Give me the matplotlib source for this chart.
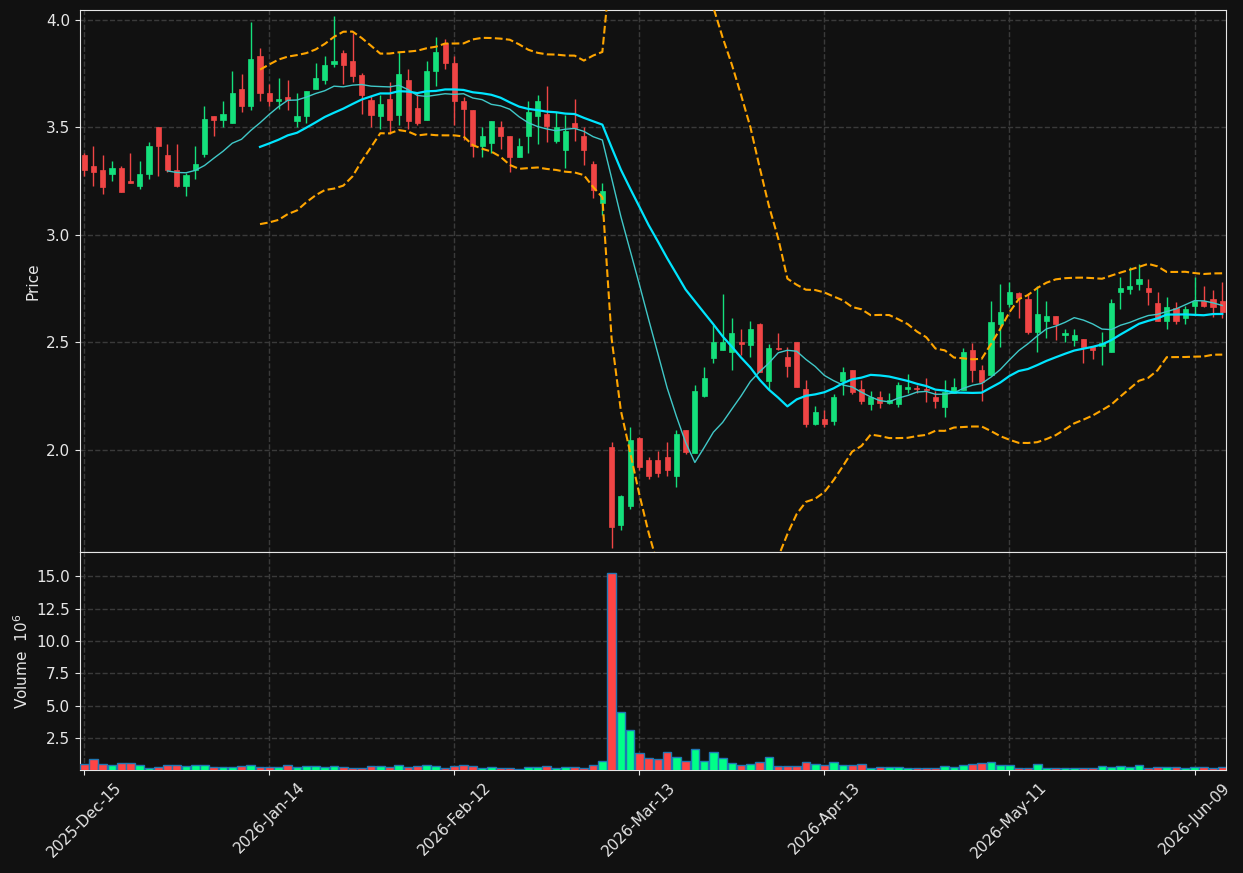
import matplotlib
matplotlib.use("Agg")
import matplotlib.pyplot as plt
import numpy as np
import pandas as pd

# trading days (NYSE holidays skipped)
holidays = ["2025-12-25", "2026-01-01", "2026-01-19", "2026-02-16", "2026-04-03", "2026-05-25"]
n_days = 124
dates = pd.date_range("2025-12-15", periods=n_days,
                      freq=pd.offsets.CustomBusinessDay(holidays=holidays))

opens = [3.372, 3.322, 3.302, 3.281, 3.312, 3.251, 3.229, 3.281, 3.501, 3.372,
         3.302, 3.229, 3.299, 3.377, 3.553, 3.536, 3.518, 3.679, 3.597, 3.833,
         3.660, 3.620, 3.642, 3.527, 3.550, 3.676, 3.718, 3.795, 3.843, 3.809,
         3.741, 3.625, 3.550, 3.633, 3.558, 3.721, 3.591, 3.536, 3.760, 3.893,
         3.798, 3.623, 3.581, 3.411, 3.429, 3.502, 3.460, 3.360, 3.457, 3.550,
         3.563, 3.437, 3.395, 3.521, 3.460, 3.330, 3.150, 2.014, 1.651, 1.741,
         2.056, 1.953, 1.953, 1.967, 1.880, 2.093, 1.983, 2.251, 2.429, 2.462,
         2.453, 2.502, 2.488, 2.586, 2.322, 2.472, 2.433, 2.502, 2.284, 2.122,
         2.144, 2.132, 2.322, 2.372, 2.284, 2.211, 2.247, 2.220, 2.211, 2.281,
         2.286, 2.284, 2.247, 2.201, 2.264, 2.279, 2.465, 2.372, 2.349, 2.583,
         2.679, 2.727, 2.702, 2.550, 2.600, 2.623, 2.532, 2.512, 2.516, 2.478,
         2.484, 2.453, 2.732, 2.750, 2.769, 2.753, 2.682, 2.601, 2.659, 2.611,
         2.671, 2.692, 2.702, 2.690]
highs = [3.380, 3.414, 3.371, 3.344, 3.321, 3.380, 3.344, 3.433, 3.501, 3.422,
         3.422, 3.287, 3.414, 3.598, 3.553, 3.623, 3.761, 3.747, 3.989, 3.868,
         3.702, 3.729, 3.721, 3.659, 3.670, 3.798, 3.831, 4.019, 3.859, 3.938,
         3.752, 3.643, 3.651, 3.710, 3.848, 3.771, 3.659, 3.809, 3.919, 3.910,
         3.833, 3.640, 3.581, 3.501, 3.530, 3.530, 3.460, 3.450, 3.623, 3.651,
         3.693, 3.572, 3.558, 3.631, 3.499, 3.344, 3.240, 2.036, 1.790, 2.104,
         2.060, 1.966, 1.995, 2.036, 2.090, 2.093, 2.302, 2.385, 2.581, 2.724,
         2.613, 2.561, 2.601, 2.592, 2.490, 2.543, 2.480, 2.502, 2.323, 2.205,
         2.186, 2.260, 2.385, 2.372, 2.323, 2.273, 2.273, 2.264, 2.316, 2.352,
         2.302, 2.333, 2.273, 2.324, 2.333, 2.473, 2.499, 2.394, 2.693, 2.772,
         2.780, 2.735, 2.727, 2.763, 2.692, 2.623, 2.561, 2.561, 2.516, 2.478,
         2.550, 2.702, 2.803, 2.850, 2.864, 2.795, 2.733, 2.710, 2.688, 2.670,
         2.803, 2.760, 2.744, 2.780]
lows = [3.271, 3.229, 3.189, 3.248, 3.200, 3.239, 3.211, 3.259, 3.271, 3.290,
        3.220, 3.178, 3.259, 3.361, 3.457, 3.499, 3.518, 3.571, 3.581, 3.622,
        3.597, 3.586, 3.578, 3.501, 3.519, 3.676, 3.702, 3.780, 3.702, 3.710,
        3.561, 3.501, 3.493, 3.470, 3.512, 3.493, 3.512, 3.536, 3.693, 3.771,
        3.512, 3.442, 3.361, 3.361, 3.380, 3.398, 3.291, 3.360, 3.380, 3.422,
        3.431, 3.429, 3.310, 3.437, 3.325, 3.171, 3.093, 1.543, 1.628, 1.724,
        1.907, 1.864, 1.873, 1.880, 1.826, 1.981, 1.983, 2.245, 2.404, 2.462,
        2.372, 2.440, 2.431, 2.360, 2.282, 2.465, 2.341, 2.290, 2.105, 2.114,
        2.105, 2.114, 2.253, 2.260, 2.212, 2.183, 2.194, 2.211, 2.201, 2.264,
        2.264, 2.222, 2.194, 2.152, 2.264, 2.279, 2.315, 2.229, 2.349, 2.480,
        2.664, 2.613, 2.540, 2.454, 2.520, 2.512, 2.501, 2.484, 2.403, 2.422,
        2.395, 2.453, 2.654, 2.724, 2.741, 2.674, 2.601, 2.561, 2.585, 2.585,
        2.629, 2.662, 2.620, 2.613]
closes = [3.299, 3.290, 3.220, 3.312, 3.200, 3.239, 3.284, 3.414, 3.411, 3.299,
          3.229, 3.276, 3.330, 3.540, 3.536, 3.563, 3.660, 3.597, 3.819, 3.657,
          3.620, 3.633, 3.628, 3.553, 3.670, 3.730, 3.791, 3.809, 3.788, 3.736,
          3.648, 3.558, 3.609, 3.536, 3.749, 3.527, 3.519, 3.763, 3.851, 3.798,
          3.620, 3.586, 3.411, 3.460, 3.530, 3.457, 3.360, 3.414, 3.572, 3.623,
          3.507, 3.502, 3.484, 3.496, 3.395, 3.209, 3.205, 1.643, 1.786, 2.047,
          1.922, 1.880, 1.893, 1.904, 2.074, 1.991, 2.274, 2.335, 2.502, 2.502,
          2.544, 2.490, 2.563, 2.360, 2.474, 2.468, 2.392, 2.290, 2.122, 2.177,
          2.122, 2.247, 2.363, 2.270, 2.229, 2.248, 2.220, 2.233, 2.302, 2.293,
          2.281, 2.279, 2.229, 2.271, 2.293, 2.456, 2.369, 2.315, 2.595, 2.642,
          2.735, 2.707, 2.550, 2.633, 2.623, 2.583, 2.544, 2.535, 2.480, 2.462,
          2.499, 2.682, 2.753, 2.763, 2.795, 2.732, 2.601, 2.665, 2.601, 2.654,
          2.692, 2.670, 2.662, 2.640]
# volume in millions
volumes = [0.50, 0.89, 0.50, 0.42, 0.58, 0.58, 0.42, 0.19, 0.27, 0.42,
           0.42, 0.35, 0.42, 0.42, 0.27, 0.27, 0.27, 0.35, 0.42, 0.27,
           0.27, 0.27, 0.42, 0.27, 0.35, 0.35, 0.27, 0.35, 0.27, 0.19,
           0.19, 0.35, 0.35, 0.27, 0.42, 0.27, 0.35, 0.42, 0.35, 0.19,
           0.35, 0.42, 0.35, 0.19, 0.27, 0.19, 0.19, 0.12, 0.27, 0.27,
           0.35, 0.19, 0.27, 0.27, 0.19, 0.42, 0.73, 15.21, 4.50, 3.12,
           1.35, 0.96, 0.89, 1.43, 1.04, 0.73, 1.66, 0.73, 1.43, 0.96,
           0.58, 0.42, 0.50, 0.66, 1.04, 0.35, 0.35, 0.35, 0.66, 0.50,
           0.42, 0.66, 0.42, 0.42, 0.50, 0.19, 0.27, 0.27, 0.27, 0.19,
           0.19, 0.19, 0.19, 0.35, 0.27, 0.42, 0.50, 0.58, 0.66, 0.42,
           0.42, 0.19, 0.19, 0.50, 0.19, 0.19, 0.19, 0.19, 0.19, 0.19,
           0.35, 0.27, 0.35, 0.27, 0.42, 0.19, 0.27, 0.27, 0.27, 0.19,
           0.27, 0.27, 0.19, 0.27]

df = pd.DataFrame({"Open": opens, "High": highs, "Low": lows,
                   "Close": closes, "Volume": volumes}, index=dates)

bg = "#111111"
up_c, down_c = "#14e07c", "#f04545"
vol_up, vol_down = "#00ff88", "#ff4444"
fg = "#e6e6e6"

fig = plt.figure(figsize=(12.43, 8.73), dpi=100, facecolor=bg)
ax = fig.add_axes([0.0644, 0.3677, 0.9219, 0.6208])
axv = fig.add_axes([0.0644, 0.1180, 0.9219, 0.2497], sharex=ax)

x = np.arange(len(df))
up = df.Close >= df.Open
ccol = np.where(up, up_c, down_c)

ax.vlines(x, df.Low, df.High, colors=ccol, linewidth=1, zorder=3)
ax.bar(x, (df.Close - df.Open).abs(), bottom=df[["Open", "Close"]].min(axis=1),
       width=0.55, color=ccol, edgecolor=ccol, linewidth=0.5, zorder=4)

ma10 = df.Close.rolling(10).mean()
ma20 = df.Close.rolling(20).mean()
sd20 = df.Close.rolling(20).std()
ax.plot(x, ma10, color="#40c8c8", lw=1, zorder=5)
ax.plot(x, ma20, color="#00e5ff", lw=1.6, zorder=5)
ax.plot(x, ma20 + 2 * sd20, color="#ffa500", lw=1.5, ls="--", zorder=5)
ax.plot(x, ma20 - 2 * sd20, color="#ffa500", lw=1.5, ls="--", zorder=5)

axv.bar(x, df.Volume, width=0.94, color=np.where(up, vol_up, vol_down),
        edgecolor="#1f77b4", linewidth=1, zorder=3)

ax.set_ylim(1.525, 4.045)
axv.set_ylim(0.07, 16.85)
ax.set_xlim(-0.45, 123.4)
ax.set_yticks([2.0, 2.5, 3.0, 3.5, 4.0])
axv.set_yticks([2.5, 5.0, 7.5, 10.0, 12.5, 15.0])

ticks = x[::20]
axv.set_xticks(ticks)
axv.set_xticklabels([d.strftime("%Y-%b-%d") for d in dates[::20]], rotation=45)
plt.setp(ax.get_xticklabels(), visible=False)
ax.tick_params(axis="x", length=0)

for a in (ax, axv):
    a.set_facecolor(bg)
    a.grid(True, color="#3a3a3a", linestyle="--", linewidth=1)
    a.set_axisbelow(True)
    for s in a.spines.values():
        s.set_color(fg)
    a.tick_params(colors=fg, labelsize=11)

ax.set_ylabel("Price", color=fg, fontsize=11)
axv.set_ylabel("Volume  $10^{6}$", color=fg, fontsize=11)

fig.savefig("out.png", dpi=100, facecolor=bg)
